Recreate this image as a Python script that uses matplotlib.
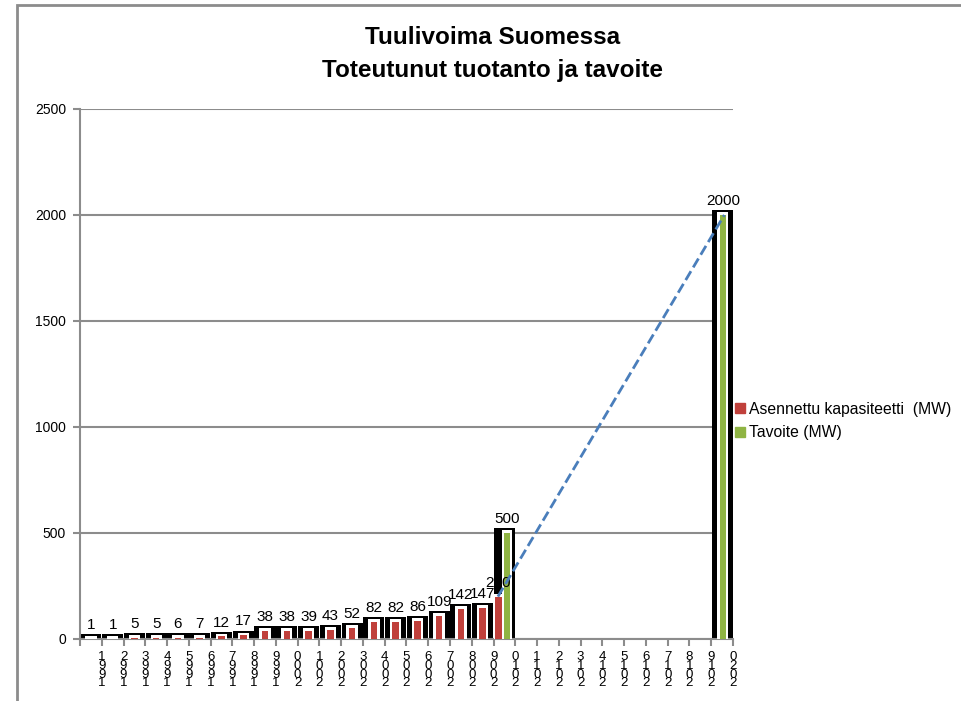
import matplotlib.pyplot as plt
from matplotlib.lines import Line2D
from matplotlib.patches import Rectangle

plt.rcParams['font.family'] = ['Liberation Sans', 'DejaVu Sans']

years = list(range(1991, 2021))
kapasiteetti = [1, 1, 5, 5, 6, 7, 12, 17, 38, 38, 39, 43, 52, 82, 82, 86,
                109, 142, 147, 200]
tavoite_years = [2010, 2020]
tavoite = [500, 2000]

RED = "#c0403b"
GREEN = "#8fb443"
GRAY = "#8c8c8c"


def main():
    fig = plt.figure(figsize=(9.62, 7.01), dpi=100)
    # kaavion reunus
    fig.patches.append(Rectangle((17 / 962, -0.1), 1.2, 1.1 - 5 / 701,
                                 transform=fig.transFigure, fill=False,
                                 edgecolor=GRAY, linewidth=2))
    ax = fig.add_axes([80 / 962, 62 / 701, 653 / 962, 530 / 701])

    # kategoriat: vuosi -> paikka
    pos = {y: i + 0.5 for i, y in enumerate(years)}
    tav = dict(zip(tavoite_years, tavoite))

    for i, v in enumerate(kapasiteetti):
        y = years[i]
        top = max(v, tav.get(y, 0))
        ax.bar(pos[y], top + 22, width=0.97, color="black", zorder=2)
        if y in tav:
            xr = pos[y] - 0.28
            ax.bar(xr, v + 12, width=0.42, color="white", zorder=3)
        else:
            xr = pos[y]
            ax.bar(xr, v + 12, width=0.52, color="white", zorder=3)
        ax.bar(xr, v, width=0.3, color=RED, zorder=4)
        ax.annotate(str(v), (xr, v), xytext=(0, 5), textcoords="offset points",
                    ha="center", va="bottom", fontsize=11, zorder=6)

    for y, v in zip(tavoite_years, tavoite):
        if y == 2010:
            xg = pos[y] + 0.12
            ax.bar(xg, v + 12, width=0.45, color="white", zorder=3)
        else:
            xg = pos[y] + 0.03
            ax.bar(pos[y], v + 22, width=0.97, color="black", zorder=2)
            ax.bar(xg, v + 12, width=0.52, color="white", zorder=3)
        ax.bar(xg, v, width=0.3, color=GREEN, zorder=4)
        ax.annotate(str(v), (xg, v), xytext=(0, 5), textcoords="offset points",
                    ha="center", va="bottom", fontsize=11, zorder=6)

    # katkoviiva 2010 -> 2020
    ax.plot([pos[2010] - 0.3, pos[2020] + 0.1], [kapasiteetti[-1], tavoite[-1]],
            linestyle="--", color="#4a7ebb", linewidth=2, zorder=7)

    ax.set_xlim(0, 30)
    ax.set_ylim(0, 2500)
    ax.set_yticks(range(0, 2501, 500))
    ax.set_xticks(range(0, 31))
    ax.set_xticklabels([""] + ["\n".join(reversed(str(y))) for y in years],
                       fontsize=9.5, linespacing=0.62)
    ax.tick_params(axis="y", labelsize=10, length=5, color=GRAY, width=1.5,
                   pad=5)
    ax.tick_params(axis="x", length=5, color=GRAY, width=1.5, pad=4)
    ax.grid(axis="y", color=GRAY, linewidth=1.5, zorder=0)
    ax.set_axisbelow(True)
    for s in ["top", "right"]:
        ax.spines[s].set_visible(False)
    ax.spines["left"].set_color(GRAY)
    ax.spines["bottom"].set_color(GRAY)
    ax.spines["left"].set_linewidth(1.5)
    ax.spines["bottom"].set_linewidth(1.5)

    fig.text(493 / 962, 1 - 37 / 701, "Tuulivoima Suomessa", ha="center",
             va="center", fontsize=17.5, fontweight="bold")
    fig.text(493 / 962, 1 - 70 / 701, "Toteutunut tuotanto ja tavoite",
             ha="center", va="center", fontsize=17.5, fontweight="bold")

    handles = [
        Line2D([], [], marker="s", linestyle="none", color=RED, markersize=7),
        Line2D([], [], marker="s", linestyle="none", color=GREEN, markersize=7),
    ]
    fig.legend(handles, ["Asennettu kapasiteetti  (MW)", "Tavoite (MW)"],
               loc="center left", bbox_to_anchor=(718 / 962, 1 - 421 / 701),
               frameon=False, fontsize=11.3, handletextpad=0.1,
               labelspacing=0.55, handlelength=1)

    fig.savefig("out.png", dpi=100)


if __name__ == "__main__":
    main()
